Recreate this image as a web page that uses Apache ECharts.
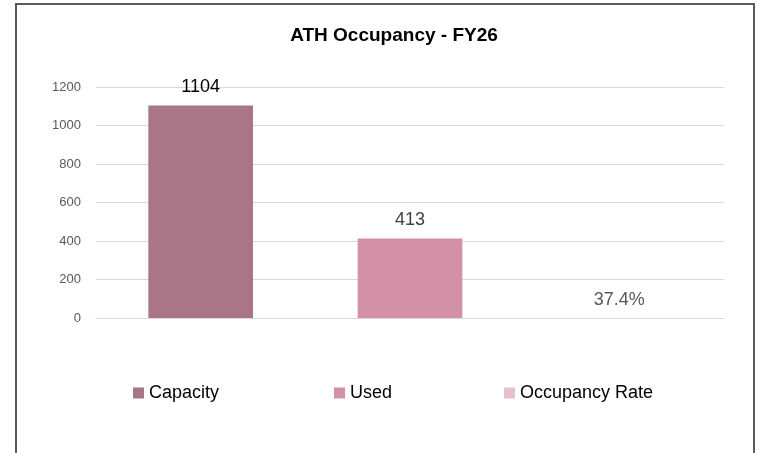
<!DOCTYPE html>
<html>
<head>
<meta charset="utf-8">
<script src="https://cdn.jsdelivr.net/npm/echarts@6/dist/echarts.min.js"></script>
<style>
  html, body { margin: 0; padding: 0; background: #fff; }
  #main { width: 769px; height: 453px; }
</style>
</head>
<body>
<div id="main"></div>
<script>
var categories = ['Capacity', 'Used', 'Occupancy Rate'];
var capacity = [1104, '-', '-'];
var used = ['-', 413, '-'];
var occupancyRate = ['-', '-', 0.374];
var yTicks = [0, 200, 400, 600, 800, 1000, 1200];

var colors = ['#A87686', '#D291A6', '#E6C1CD'];
var labelFont = 'Liberation Sans, Arial, sans-serif';

function makeSeries(name, data, color, labelColor, fmt) {
    return {
        name: name,
        type: 'bar',
        stack: 'one',
        barWidth: '50%',
        data: data,
        itemStyle: { color: color },
        label: {
            show: true,
            position: 'top',
            distance: 9,
            color: labelColor,
            fontSize: 18,
            fontFamily: labelFont,
            formatter: fmt
        }
    };
}

var myChart = echarts.init(document.getElementById('main'));

var option = {
    backgroundColor: '#fff',
    animation: false,
    title: {
        text: 'ATH Occupancy - FY26',
        left: 389,
        textAlign: 'center',
        top: 21,
        textStyle: { fontSize: 19, fontWeight: 'bold', color: '#000', fontFamily: labelFont }
    },
    // three legends so each item sits where the reference puts it
    legend: [
        { data: ['Capacity'], left: 133 },
        { data: ['Used'], left: 334 },
        { data: ['Occupancy Rate'], left: 504 }
    ].map(function (l) {
        l.top = 384;
        l.padding = 0;
        l.itemWidth = 11;
        l.itemHeight = 11;
        l.icon = 'rect';
        l.textStyle = { fontSize: 18, color: '#000', fontFamily: labelFont };
        return l;
    }),
    grid: { left: 96, right: 45, top: 87, bottom: 135 },
    xAxis: {
        type: 'category',
        data: categories,
        axisLabel: { show: false },
        axisTick: { show: false },
        axisLine: { lineStyle: { color: '#d9d9d9' } }
    },
    yAxis: {
        type: 'value',
        min: yTicks[0],
        max: yTicks[yTicks.length - 1],
        interval: 200,
        axisLabel: {
            color: '#595959', fontSize: 13, margin: 15, fontFamily: labelFont,
            formatter: function (v) { return String(v); }
        },
        splitLine: { lineStyle: { color: '#d9d9d9' } },
        axisLine: { show: false },
        axisTick: { show: false }
    },
    graphic: [{
        type: 'rect',
        shape: { x: 16, y: 4, width: 738, height: 470 },
        style: { fill: 'none', stroke: '#595959', lineWidth: 2 },
        silent: true
    }],
    series: [
        makeSeries('Capacity', capacity, colors[0], '#000', '{c}'),
        makeSeries('Used', used, colors[1], '#404040', '{c}'),
        makeSeries('Occupancy Rate', occupancyRate, colors[2], '#595959', function (p) {
            return (p.value * 100).toFixed(1) + '%';
        })
    ]
};

myChart.setOption(option);
</script>
</body>
</html>
